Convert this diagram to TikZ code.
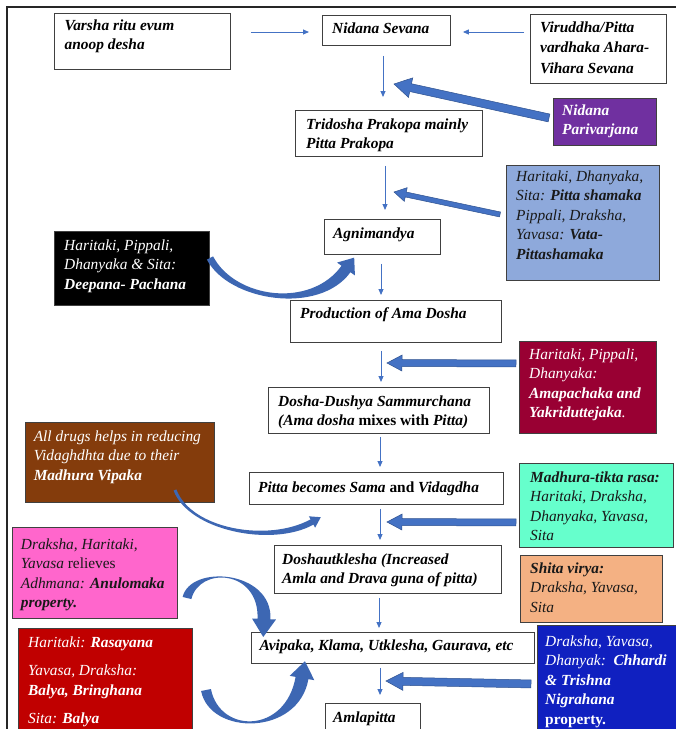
\documentclass[tikz,border=0pt]{standalone}
\usepackage{fontspec}
\setmainfont{Liberation Serif}
\usetikzlibrary{calc,arrows.meta}
\definecolor{arrblue}{HTML}{4472C4}
\definecolor{arredge}{HTML}{2F528F}
\definecolor{curvblue}{HTML}{3D67B3}
\definecolor{purp}{HTML}{7030A0}
\definecolor{lblue}{HTML}{8EA9DB}
\definecolor{maroon}{HTML}{990033}
\definecolor{brown1}{HTML}{843C0C}
\definecolor{aqua}{HTML}{66FFCC}
\definecolor{peach}{HTML}{F4B183}
\definecolor{pink1}{HTML}{FF66CC}
\definecolor{red1}{HTML}{C00000}
\definecolor{dblue}{HTML}{1020C0}
\newcommand{\fsz}{\fontsize{15.4}{19.5}\selectfont}
\newcommand{\bt}[9]{%
 \node[boxst,#6,anchor=north west,minimum width={#4-#2},minimum height={#5-#3}] (#1) at (#2,#3) {};
 \node[txtst,#8,anchor=north west] (#1t) at ([shift={#7}]#1.north west) {\strut#9};}
\newcommand{\barrow}[5]{%
 \coordinate (ba) at #1; \coordinate (bb) at #2; \coordinate (bh) at ($(bb)!#5!(ba)$);
 \filldraw[barr] ($(ba)!#3!90:(bb)$) -- ($(bh)!#3!90:(bb)$) -- ($(bh)!#4!90:(bb)$) -- (bb) -- ($(bh)!#4!-90:(bb)$) -- ($(bh)!#3!-90:(bb)$) -- ($(ba)!#3!-90:(bb)$) -- cycle;}
\newcommand{\carrow}[8]{%
 \coordinate (q0) at #1; \coordinate (q1) at #2; \coordinate (q2) at #3; \coordinate (q3) at #4;
 \fill[carr] ($(q0)!#5!90:(q1)$) .. controls ($(q1)!#5!-90:(q0)$) and ($(q2)!#6!90:(q3)$) .. ($(q3)!#6!-90:(q2)$)
 -- ($(q3)!#7!-90:(q2)$) -- ($(q3)!-#8!(q2)$) -- ($(q3)!#7!90:(q2)$) -- ($(q3)!#6!90:(q2)$)
 .. controls ($(q2)!#6!-90:(q3)$) and ($(q1)!#5!90:(q0)$) .. ($(q0)!#5!-90:(q1)$) -- cycle;}
\begin{document}
\begin{tikzpicture}[x=1pt,y=-1pt,
  boxst/.style={draw=black!75,line width=0.9pt,inner sep=0pt},
  txtst/.style={align=left,inner sep=0pt},
  bi/.style={font=\fsz\bfseries\itshape},
  it/.style={font=\fsz\itshape},
  thinarr/.style={draw=arrblue,line width=0.9pt,-{Triangle[length=6pt,width=5pt]}},
  barr/.style={fill=arrblue,draw=arredge,line width=0.5pt},
  carr/.style={fill=curvblue}]
\useasboundingbox (0,0) rectangle (676,729);
\clip (0,0) rectangle (676,729);
\fill[white] (0,0) rectangle (676,729);
\draw[line width=1.1pt,black!85] (7,745) -- (7,7) -- (690,7);

\bt{va}{54}{13}{230}{69}{}{(10.5,3.4)}{bi}{Varsha ritu evum\\anoop desha}
\bt{ns}{322}{15}{450}{45}{}{(10,4.4)}{bi}{Nidana Sevana}
\bt{vi}{530}{14}{666}{83}{}{(10,3.7)}{font=\fontsize{15.4}{20.5}\selectfont\bfseries\itshape}{Viruddha/Pitta\\vardhaka Ahara-\\Vihara Sevana}
\bt{np}{553}{98}{656}{145}{fill=purp}{(9,3.4)}{bi,text=white}{Nidana\\Parivarjana}
\bt{tri}{295}{110}{482}{156}{}{(11,5.4)}{bi}{Tridosha Prakopa mainly\\Pitta Prakopa}
\bt{bl}{506}{165}{659}{280}{fill=lblue}{(10,2.4)}{it,text=black!90}{Haritaki, Dhanyaka,\\Sita: \textbf{Pitta shamaka}\\Pippali, Draksha,\\Yavasa: \textbf{Vata-}\\\textbf{Pittashamaka}}
\bt{ag}{324}{219}{440}{254}{}{(9,5.4)}{bi}{Agnimandya}
\bt{bk}{54}{231}{209}{305}{fill=black}{(10,5.4)}{it,text=white}{Haritaki, Pippali,\\Dhanyaka \& Sita:\\\textbf{Deepana- Pachana}}
\bt{pr}{290}{300}{501}{342}{}{(10,4.4)}{bi}{Production of Ama Dosha}
\bt{mr}{519}{341}{656}{433}{fill=maroon}{(10,4.4)}{it,text=white}{Haritaki, Pippali,\\Dhanyaka:\\\textbf{Amapachaka and}\\\textbf{Yakriduttejaka}.}
\bt{dd}{268}{387}{489}{433}{}{(10,5.4)}{bi}{Dosha-Dushya Sammurchana\\(Ama dosha \textup{mixes with} Pitta)}
\bt{br}{25}{422}{214}{502}{fill=brown1}{(8.6,5.4)}{it,text=white}{All drugs helps in reducing\\Vidaghdhta due to their\\\textbf{Madhura Vipaka}}
\bt{pb}{249}{472}{503}{504}{}{(9,6.4)}{bi}{Pitta becomes Sama \textup{and} Vidagdha}
\bt{aq}{519}{463}{673}{547}{fill=aqua}{(11,5.4)}{it,text=black!90}{\textbf{Madhura-tikta rasa:}\\Haritaki, Draksha,\\Dhanyaka, Yavasa,\\Sita}
\bt{dk}{274}{545}{501}{593}{}{(8,5.4)}{bi}{Doshautklesha (Increased\\Amla and Drava guna of pitta)}
\bt{sv}{520}{555}{662}{622}{fill=peach}{(10,4.4)}{it,text=black!90}{\textbf{Shita virya:}\\Draksha, Yavasa,\\Sita}
\bt{pk}{12}{527}{177}{618}{fill=pink1}{(8.7,8.4)}{it,text=black!90}{Draksha, Haritaki,\\Yavasa \textup{relieves}\\Adhmana: \textbf{Anulomaka}\\\textbf{property.}}
\bt{av}{251}{632}{534}{663}{}{(8.5,4.4)}{bi}{Avipaka, Klama, Utklesha, Gaurava, etc}
\bt{rd}{18}{628}{192}{745}{fill=red1}{(10,5.4)}{it,text=white}{Haritaki: \textbf{Rasayana}\\[9pt]Yavasa, Draksha:\\\textbf{Balya, Bringhana}\\[9pt]Sita: \textbf{Balya}}
\bt{db}{537}{625}{690}{745}{fill=dblue}{(8,7.4)}{it,text=white}{Draksha, Yavasa,\\Dhanyak:\ \ \textbf{Chhardi}\\\textbf{\& Trishna}\\\textbf{Nigrahana}\\\textbf{\upshape property.}}
\bt{am}{325}{703}{420}{745}{}{(8,5.4)}{bi}{Amlapitta}

% thin arrows
\coordinate (yh) at (0,32);
\draw[thinarr,shorten <=20pt,shorten >=13pt] (va.east |- yh) -- (ns.west |- yh);
\draw[thinarr,shorten <=6pt,shorten >=12pt] (vi.west |- yh) -- (ns.east |- yh);
\coordinate (xa) at (383,0);
\coordinate (xb) at (385,0);
\coordinate (xc) at (381,0);
\coordinate (xd) at (380,0);
\coordinate (xe) at (379,0);
\draw[thinarr,shorten <=10pt,shorten >=13pt] (ns.south -| xa) -- (tri.north -| xa);
\draw[thinarr,shorten <=9pt,shorten >=9pt] (tri.south -| xb) -- (ag.north -| xb);
\draw[thinarr,shorten <=9pt,shorten >=5pt] (ag.south -| xc) -- (pr.north -| xc);
\draw[thinarr,shorten <=8pt,shorten >=5pt] (pr.south -| xc) -- (dd.north -| xc);
\draw[thinarr,shorten <=3pt,shorten >=5pt] (dd.south -| xd) -- (pb.north -| xd);
\draw[thinarr,shorten <=4pt,shorten >=5pt] (pb.south -| xd) -- (dk.north -| xd);
\draw[thinarr,shorten <=4pt,shorten >=4pt] (dk.south -| xe) -- (av.north -| xe);
\draw[thinarr,shorten <=4pt,shorten >=8pt] (av.south -| xd) -- (am.north -| xd);

% block arrows
\coordinate (t1) at (394,84);
\coordinate (t2) at (394,192);
\coordinate (t3) at (387,363);
\coordinate (t4) at (387,522);
\coordinate (t5) at (386,681);
\barrow{([shift={(-4,-4)}]np.west)}{(t1)}{4pt}{10pt}{17pt}
\barrow{([shift={(-6,-8.5)}]bl.west)}{(t2)}{2.5pt}{7pt}{12pt}
\barrow{([shift={(-3,-24)}]mr.west)}{(t3)}{3.5pt}{8pt}{15pt}
\barrow{([shift={(-3,17)}]aq.west)}{(t4)}{3.5pt}{8pt}{15pt}
\barrow{([shift={(-6,-1.5)}]db.west)}{(t5)}{4pt}{9pt}{17pt}

% curved arrows
\carrow{(210,258)}{(232,300)}{(315,312)}{(346,269)}{3.5pt}{5.5pt}{11pt}{14pt}
\carrow{(175,490)}{(190,530)}{(270,545)}{(312,522)}{1.5pt}{3pt}{6.5pt}{10pt}
\carrow{(187,598)}{(195,565)}{(266,570)}{(264,619)}{4.5pt}{6.5pt}{12pt}{18pt}
\carrow{(206,690)}{(215,735)}{(292,735)}{(302,678)}{5pt}{6.5pt}{12.5pt}{17pt}
\end{tikzpicture}
\end{document}
